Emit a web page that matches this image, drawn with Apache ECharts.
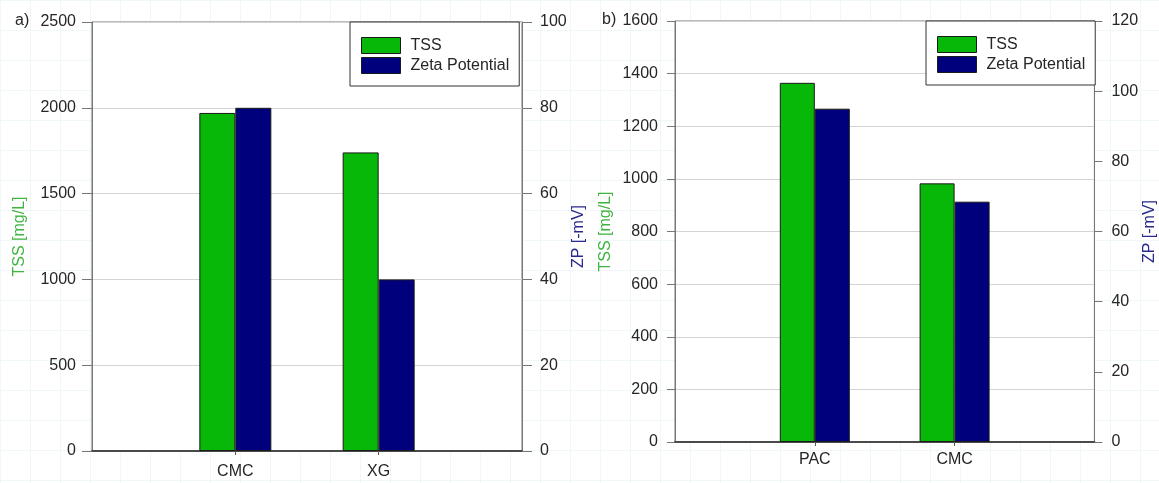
<!DOCTYPE html>
<html>
<head>
<meta charset="utf-8">
<script src="https://cdn.jsdelivr.net/npm/echarts@6/dist/echarts.min.js"></script>
<style>
  html, body { margin: 0; padding: 0; }
  body {
    background-color: #ffffff;
    background-image: linear-gradient(#f0f7f9 1px, transparent 1px), linear-gradient(90deg, #f0f7f9 1px, transparent 1px);
    background-size: 30px 30px;
  }
  #chart { width: 1159px; height: 483px; }
</style>
</head>
<body>
<div id="chart"></div>
<script>
// ---- Data ----
const categoriesA = ['CMC', 'XG'];
const tssA = [1970, 1740];       // TSS [mg/L]
const zpA = [80, 40];            // ZP [-mV]

const categoriesB = ['PAC', 'CMC'];
const tssB = [1365, 983];
const zpB = [95, 68.5];

const tssAxisA = [0, 2500, 500];  // min, max, interval
const zpAxisA = [0, 100, 20];
const tssAxisB = [0, 1600, 200];
const zpAxisB = [0, 120, 20];

const seriesNames = ['TSS', 'Zeta Potential'];
const panelLabels = ['a)', 'b)'];

// ---- Build ----
const FONT = "'Liberation Sans', Arial, sans-serif";
const GREEN = '#08b808';
const NAVY = '#00007d';
const TXT = '#262626';
const pad = arr => ['', ...arr, ' '];
const padVals = arr => [null, ...arr, null];

function xAxis(gridIndex, cats, margin) {
  return {
    type: 'category', gridIndex, data: pad(cats), boundaryGap: false,
    axisLine: { show: true, lineStyle: { color: '#4a4a4a', width: 2 } },
    axisTick: { show: true, length: 4, interval: (i, v) => v.trim() !== '', lineStyle: { color: '#555' } },
    axisLabel: { interval: 0, margin, fontSize: 16, color: TXT, fontFamily: FONT },
    splitLine: { show: false }
  };
}
function yAxis(gridIndex, pos, rng, name, nameColor, nameGap, tickLen, labelMargin, split) {
  return {
    type: 'value', gridIndex, position: pos, min: rng[0], max: rng[1], interval: rng[2],
    name, nameLocation: 'middle', nameGap, nameRotate: 90,
    nameTextStyle: { color: nameColor, fontSize: 16, fontFamily: FONT },
    axisLine: { show: true, lineStyle: { color: '#777', width: 1 } },
    axisTick: { show: true, inside: false, length: tickLen, lineStyle: { color: '#777' } },
    axisLabel: { margin: labelMargin, fontSize: 16, color: TXT, fontFamily: FONT, formatter: v => String(v) },
    splitLine: { show: split, lineStyle: { color: '#d4d4d4', width: 1 } }
  };
}
function bar(name, color, xi, yi, data, width) {
  return {
    type: 'bar', name, xAxisIndex: xi, yAxisIndex: yi, data: padVals(data),
    barWidth: width, barGap: '0%',
    itemStyle: { color, borderColor: '#1a1a1a', borderWidth: 1 },
    emphasis: { disabled: true }, animation: false
  };
}
function legend(left, top) {
  return {
    data: seriesNames, orient: 'vertical', left, top,
    padding: [15, 10, 12, 11], itemGap: 3, itemWidth: 39, itemHeight: 16,
    backgroundColor: '#fff', borderColor: '#333', borderWidth: 1,
    icon: 'rect',
    itemStyle: { borderColor: '#1a1a1a', borderWidth: 1 },
    textStyle: { fontSize: 16, color: TXT, lineHeight: 16, padding: [0, 0, 0, 5], fontFamily: FONT },
    selectedMode: false
  };
}

const option = {
  backgroundColor: 'transparent',
  animation: false,
  textStyle: { fontFamily: FONT },
  grid: [
    { left: 92, top: 22, width: 430, height: 429, show: true, backgroundColor: '#fff', borderColor: '#777', borderWidth: 1 },
    { left: 675, top: 21, width: 421, height: 421, show: true, backgroundColor: '#fff', borderColor: '#777', borderWidth: 1 }
  ],
  xAxis: [xAxis(0, categoriesA, 13), xAxis(1, categoriesB, 10)],
  yAxis: [
    yAxis(0, 'left', tssAxisA, 'TSS [mg/L]', '#3fb43f', 64, 10, 16, true),
    yAxis(0, 'right', zpAxisA, 'ZP [-mV]', '#2a2a8c', 42, 10, 18, false),
    yAxis(1, 'left', tssAxisB, 'TSS [mg/L]', '#3fb43f', 61, 8, 17, true),
    yAxis(1, 'right', zpAxisB, 'ZP [-mV]', '#2a2a8c', 38, 8, 17, false)
  ],
  legend: [legend(350, 22), legend(926, 21)],
  series: [
    bar(seriesNames[0], GREEN, 0, 0, tssA, 36),
    bar(seriesNames[1], NAVY, 0, 1, zpA, 36),
    bar(seriesNames[0], GREEN, 1, 2, tssB, 35),
    bar(seriesNames[1], NAVY, 1, 3, zpB, 35)
  ],
  graphic: [
    { type: 'text', left: 15, top: 13, style: { text: panelLabels[0], fontSize: 16, fill: TXT, fontFamily: FONT } },
    { type: 'text', left: 602, top: 12, style: { text: panelLabels[1], fontSize: 16, fill: TXT, fontFamily: FONT } }
  ]
};

const chart = echarts.init(document.getElementById('chart'), null, { renderer: 'canvas' });
chart.setOption(option);
</script>
</body>
</html>
